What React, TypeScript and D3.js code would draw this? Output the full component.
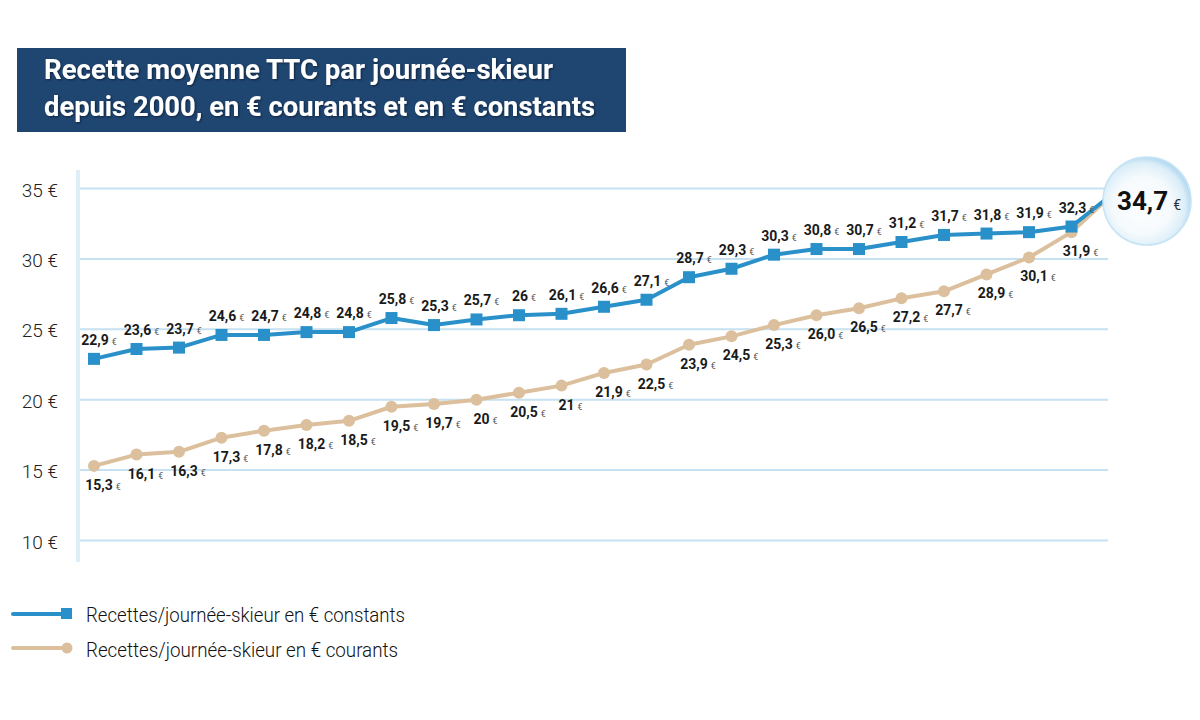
import React from "react";
import * as d3 from "d3";

const years: number[] = [2000,2001,2002,2003,2004,2005,2006,2007,2008,2009,2010,2011,2012,2013,2014,2015,2016,2017,2018,2019,2020,2021,2022,2023,2024];
const constants: number[] = [22.9,23.6,23.7,24.6,24.6,24.8,24.8,25.8,25.3,25.7,26.0,26.1,26.6,27.1,28.7,29.3,30.3,30.7,30.7,31.2,31.7,31.8,31.9,32.3,34.7];
const constantsLabels: string[] = ["22,9","23,6","23,7","24,6","24,7","24,8","24,8","25,8","25,3","25,7","26","26,1","26,6","27,1","28,7","29,3","30,3","30,8","30,7","31,2","31,7","31,8","31,9","32,3"];
const courants: number[] = [15.3,16.1,16.3,17.3,17.8,18.2,18.5,19.5,19.7,20.0,20.5,21.0,21.9,22.5,23.9,24.5,25.3,26.0,26.5,27.2,27.7,28.9,30.1,31.9,34.7];
const courantsLabels: string[] = ["15,3","16,1","16,3","17,3","17,8","18,2","18,5","19,5","19,7","20","20,5","21","21,9","22,5","23,9","24,5","25,3","26,0","26,5","27,2","27,7","28,9","30,1","31,9"];
const yTicks: number[] = [10,15,20,25,30,35];
const finalLabel = "34,7";
const titleLines: string[] = ["Recette moyenne TTC par journée-skieur","depuis 2000, en € courants et en € constants"];
const legendLabels: string[] = ["Recettes/journée-skieur en € constants","Recettes/journée-skieur en € courants"];

const BLUE = "#2a90c9";
const BEIGE = "#dcc09d";
const GRID = "#c6e1f1";
const FONT = "Roboto, 'Open Sans', sans-serif";

export default function App() {
  const x = d3.scaleLinear().domain([2000, 2024]).range([94, 1114]);
  const y = d3.scaleLinear().domain([10, 35]).range([540.5, 188.5]);
  const line = d3.line<number>().x((_, i) => x(years[i])).y((d) => y(d));

  const n = constantsLabels.length;

  return (
    <svg width={1200} height={720} style={{ position: "absolute", left: 0, top: 0, background: "#fff" }}>
      <defs>
        <radialGradient id="bubble" cx="45%" cy="55%" r="55%">
          <stop offset="0%" stopColor="#ffffff" />
          <stop offset="60%" stopColor="#f5fafd" />
          <stop offset="88%" stopColor="#dceef8" />
          <stop offset="100%" stopColor="#b6daf1" />
        </radialGradient>
        <filter id="tshadow" x="-5%" y="-20%" width="110%" height="140%">
          <feDropShadow dx="1" dy="1" stdDeviation="0.8" floodColor="#000" floodOpacity="0.5" />
        </filter>
      </defs>

      {/* Title box */}
      <rect x={17} y={48} width={609} height={84} fill="#1f4571" />
      <g fontFamily={FONT} fontWeight={700} fontSize={27} fill="#fff" filter="url(#tshadow)">
        <text x={44} y={79} textLength={509} lengthAdjust="spacingAndGlyphs">{titleLines[0]}</text>
        <text x={44} y={116} textLength={551} lengthAdjust="spacingAndGlyphs">{titleLines[1]}</text>
      </g>

      {/* axis bar */}
      <rect x={76} y={170} width={4} height={392} fill="#deeef7" />

      {/* grid + y ticks */}
      {yTicks.map((t) => (
        <g key={t}>
          <line x1={80} x2={1108} y1={y(t)} y2={y(t)} stroke={GRID} strokeWidth={2} />
          <text x={58} y={y(t) + 8} textAnchor="end" fontFamily={FONT} fontWeight={300} fontSize={19} fill="#222">
            {t} €
          </text>
        </g>
      ))}

      {/* series lines */}
      <path d={line(courants) || ""} fill="none" stroke={BEIGE} strokeWidth={4} strokeLinejoin="round" />
      <path d={line(constants) || ""} fill="none" stroke={BLUE} strokeWidth={4} strokeLinejoin="round" />

      {/* markers */}
      {courants.slice(0, n).map((v, i) => (
        <circle key={"c" + i} cx={x(years[i])} cy={y(v)} r={6} fill={BEIGE} />
      ))}
      {constants.slice(0, n).map((v, i) => (
        <rect key={"s" + i} x={x(years[i]) - 6} y={y(v) - 6} width={12} height={12} fill={BLUE} />
      ))}

      {/* data labels */}
      <g fontFamily={FONT} fontWeight={700} fontSize={14} fill="#1a1a1a">
        {constantsLabels.map((l, i) => (
          <text key={"lc" + i} x={x(years[i]) + 5} y={y(constants[i]) - 14} textAnchor="middle">
            {l}
            <tspan fontSize={9} fontWeight={400} fill="#555" dx={3}>€</tspan>
          </text>
        ))}
        {courantsLabels.map((l, i) => (
          <text key={"lr" + i} x={x(years[i]) + 9} y={y(courants[i]) + 24} textAnchor="middle">
            {l}
            <tspan fontSize={9} fontWeight={400} fill="#555" dx={3}>€</tspan>
          </text>
        ))}
      </g>

      {/* bubble */}
      <circle cx={1147} cy={201} r={44} fill="url(#bubble)" stroke="#c6e4f5" strokeWidth={1.5} />
      <text x={1117} y={210} fontFamily={FONT} fontWeight={700} fontSize={26} fill="#111">
        {finalLabel}
        <tspan fontSize={14} fontWeight={400} dx={5} fill="#333">€</tspan>
      </text>

      {/* legend */}
      <line x1={13} x2={66} y1={614} y2={614} stroke={BLUE} strokeWidth={4} strokeLinecap="round" />
      <rect x={61} y={608} width={11} height={11} fill={BLUE} />
      <text x={86} y={622} fontFamily={FONT} fontWeight={300} fontSize={21} fill="#111" textLength={319} lengthAdjust="spacingAndGlyphs">
        {legendLabels[0]}
      </text>
      <line x1={13} x2={66} y1={648} y2={648} stroke={BEIGE} strokeWidth={4} strokeLinecap="round" />
      <circle cx={67} cy={648} r={5.5} fill={BEIGE} />
      <text x={86} y={657} fontFamily={FONT} fontWeight={300} fontSize={21} fill="#111" textLength={312} lengthAdjust="spacingAndGlyphs">
        {legendLabels[1]}
      </text>
    </svg>
  );
}
